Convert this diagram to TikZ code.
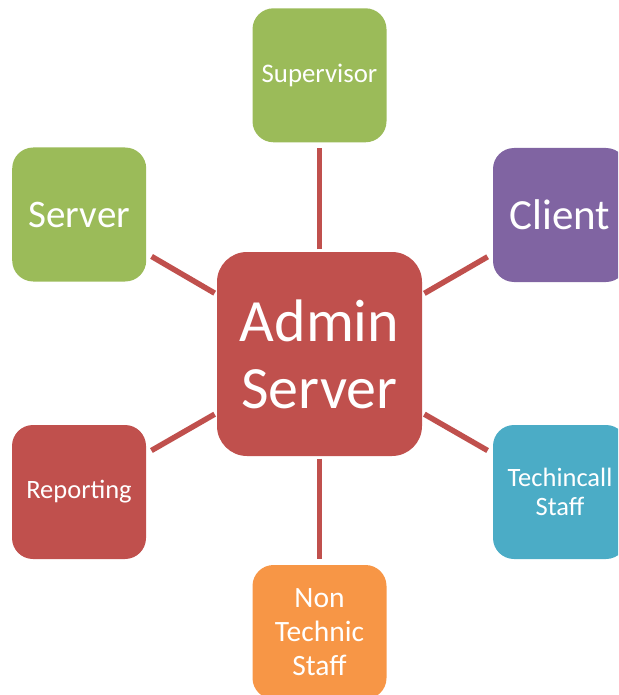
\documentclass[tikz,border=0pt]{standalone}
\usepackage{fontspec}
\setmainfont{Carlito}
\usetikzlibrary{backgrounds}
\definecolor{cgreen}{HTML}{9BBB59}
\definecolor{cpurple}{HTML}{8064A2}
\definecolor{cred}{HTML}{C0504D}
\definecolor{cblue}{HTML}{4BACC6}
\definecolor{corange}{HTML}{F79646}
\begin{document}
\begin{tikzpicture}[x=1pt,y=-1pt,
  box/.style={rounded corners=21pt, minimum width=134pt, minimum height=134pt, inner sep=0pt, text=white, align=center},
  link/.style={draw=cred, line width=5.5pt, shorten <=2.5pt, shorten >=6pt}]
\useasboundingbox (0,0) rectangle (618,695);
\clip (0,0) rectangle (618,695);
\node[box, fill=cred, minimum width=205pt, minimum height=204pt, rounded corners=30pt, font=\fontsize{60}{67}\selectfont] (admin) at (319.5,354) {Admin\\Server};
\node[box, fill=cgreen, font=\fontsize{26.8}{30}\selectfont] (sup) at (319.5,75.3) {Supervisor};
\node[box, fill=cgreen, font=\fontsize{39}{44}\selectfont] (server) at (79.2,214.5) {Server};
\node[box, fill=cpurple, font=\fontsize{43}{48}\selectfont] (client) at (560,215) {Client};
\node[box, fill=cred, font=\fontsize{26.5}{29}\selectfont] (report) at (79,492) {Reporting};
\node[box, fill=cblue, font=\fontsize{26.5}{29}\selectfont] (tech) at (560,492) {Techincall\\Staff};
\node[box, fill=corange, font=\fontsize{29.5}{34}\selectfont] (nontech) at (319.5,632) {Non\\Technic\\Staff};
\begin{scope}[on background layer]
\draw[link] (admin) -- (sup);
\draw[link] (admin) -- (server);
\draw[link] (admin) -- (client);
\draw[link] (admin) -- (report);
\draw[link] (admin) -- (tech);
\draw[link] (admin) -- (nontech);
\end{scope}
\end{tikzpicture}
\end{document}
